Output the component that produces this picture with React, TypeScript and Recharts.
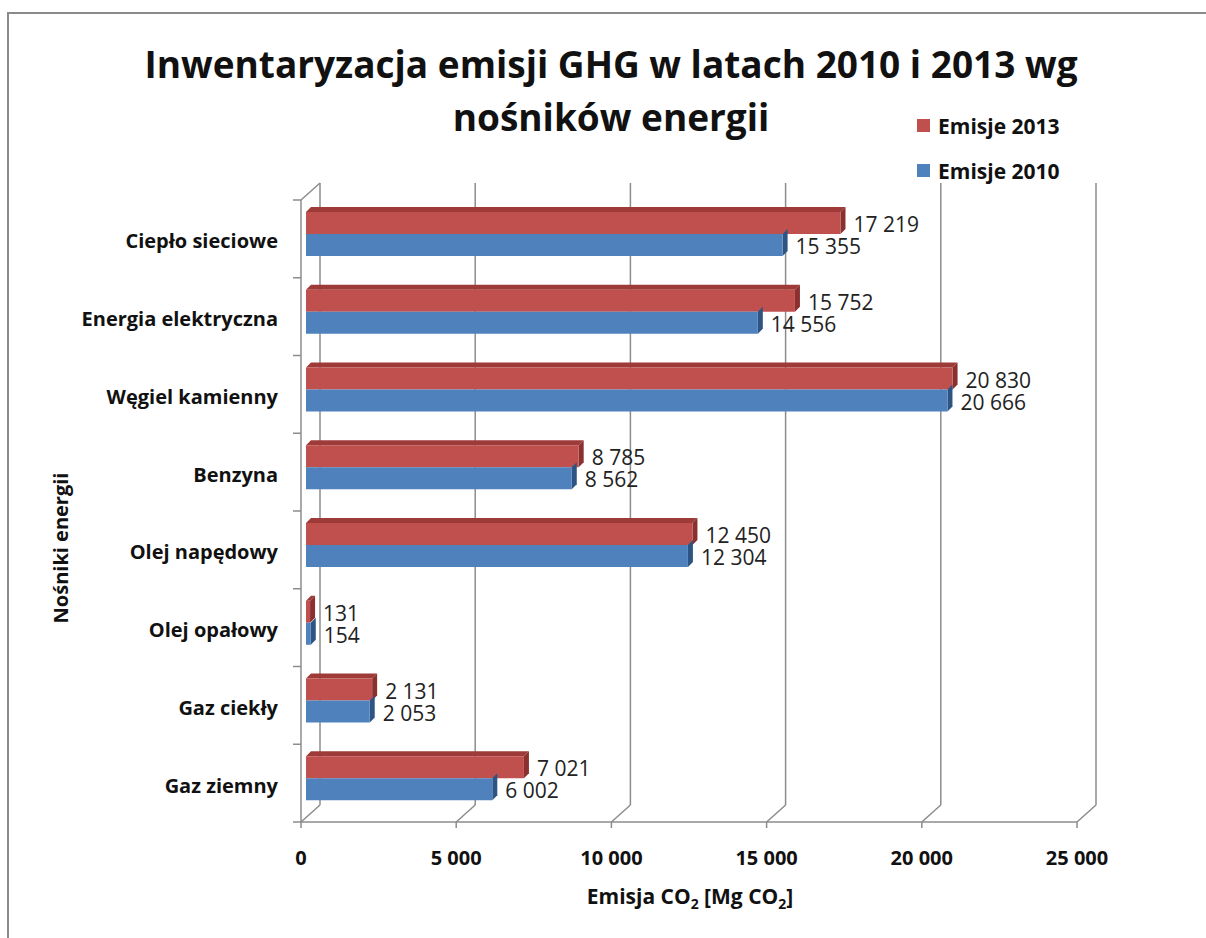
import React from 'react';
import {
  Bar,
  BarChart,
  CartesianGrid,
  Customized,
  LabelList,
  XAxis,
  YAxis,
} from 'recharts';

const categories = [
  'Ciepło sieciowe',
  'Energia elektryczna',
  'Węgiel kamienny',
  'Benzyna',
  'Olej napędowy',
  'Olej opałowy',
  'Gaz ciekły',
  'Gaz ziemny',
];
const emisje2013 = [17219, 15752, 20830, 8785, 12450, 131, 2131, 7021];
const emisje2010 = [15355, 14556, 20666, 8562, 12304, 154, 2053, 6002];
const xTicks = [0, 5000, 10000, 15000, 20000, 25000];
const seriesNames = ['Emisje 2013', 'Emisje 2010'];
const seriesColors = ['#C0504D', '#4F81BD'];

const data = categories.map((name, i) => ({
  name,
  e2013: emisje2013[i],
  e2010: emisje2010[i],
}));

const W = 1206;
const H = 938;
const PLOT_LEFT = 301;
const PLOT_RIGHT = 1077;
const PLOT_TOP = 200;
const PLOT_BOTTOM = 822;
const Y_AXIS_W = 250;
const X_AXIS_H = 60;
const BACK_DX = 19;
const BACK_DY = 17;
const SHIFT = 5; // bars sit half way into the depth
const DEPTH = 5;

const FONT = '"Open Sans", "DejaVu Sans", sans-serif';
const GRID = '#8c8c8c';

const fmt = (v: number) => String(v).replace(/\B(?=(\d{3})+(?!\d))/g, ' ');

const make3D = (front: string, top: string, side: string, showTop: boolean) => (props: any) => {
  const { x, y, width, height } = props;
  if (width == null || height == null) return null;
  const fx = x + SHIFT;
  const fy = y - SHIFT;
  const w = Math.max(width, 0);
  return (
    <g>
      {showTop && (
        <polygon
          points={`${fx},${fy} ${fx + DEPTH},${fy - DEPTH} ${fx + w + DEPTH},${fy - DEPTH} ${fx + w},${fy}`}
          fill={top}
        />
      )}
      <polygon
        points={`${fx + w},${fy} ${fx + w + DEPTH},${fy - DEPTH} ${fx + w + DEPTH},${fy + height - DEPTH} ${fx + w},${fy + height}`}
        fill={side}
      />
      <rect x={fx} y={fy} width={w} height={height} fill={front} />
    </g>
  );
};

const redShape = make3D(seriesColors[0], '#9E3B38', '#8A302E', true);
const blueShape = make3D(seriesColors[1], '#3A6595', '#2E5484', false);

const renderValue = (props: any) => {
  const { x, y, width, height, value } = props;
  return (
    <text
      x={x + width + SHIFT + DEPTH + 8}
      y={y + height / 2 - SHIFT + 1}
      dominantBaseline="central"
      fontFamily={FONT}
      fontSize={21}
      fill="#222"
    >
      {fmt(value)}
    </text>
  );
};

const gridLine = (props: any) => {
  const { x1, y1, y2, index } = props;
  return (
    <g key={`g-${index}`}>
      <line x1={x1} y1={y2} x2={x1 + BACK_DX} y2={y2 - BACK_DY} stroke={GRID} strokeWidth={1.5} />
      <line
        x1={x1 + BACK_DX}
        y1={y1 - BACK_DY}
        x2={x1 + BACK_DX}
        y2={y2 - BACK_DY}
        stroke={GRID}
        strokeWidth={1.5}
      />
      {index === 0 && (
        <line x1={x1} y1={y1} x2={x1 + BACK_DX} y2={y1 - BACK_DY} stroke={GRID} strokeWidth={1.5} />
      )}
    </g>
  );
};

const XTick = (props: any) => {
  const { x, payload } = props;
  return (
    <g>
      <line x1={x} y1={PLOT_BOTTOM} x2={x} y2={PLOT_BOTTOM + 6} stroke={GRID} strokeWidth={1.5} />
      <text
        x={x}
        y={PLOT_BOTTOM + 43}
        textAnchor="middle"
        fontFamily={FONT}
        fontWeight="bold"
        fontSize={20}
        fill="#111"
      >
        {fmt(payload.value)}
      </text>
    </g>
  );
};

const YTick = (props: any) => {
  const { y, payload, index } = props;
  const bw = (PLOT_BOTTOM - PLOT_TOP) / categories.length;
  return (
    <g>
      <line x1={PLOT_LEFT - 8} y1={y - bw / 2} x2={PLOT_LEFT} y2={y - bw / 2} stroke={GRID} strokeWidth={1.5} />
      {index === categories.length - 1 && (
        <line x1={PLOT_LEFT - 8} y1={y + bw / 2} x2={PLOT_LEFT} y2={y + bw / 2} stroke={GRID} strokeWidth={1.5} />
      )}
      <text
        x={PLOT_LEFT - 23}
        y={y + 2}
        textAnchor="end"
        dominantBaseline="central"
        fontFamily={FONT}
        fontWeight="bold"
        fontSize={20}
        fill="#111"
      >
        {payload.value}
      </text>
    </g>
  );
};

const Titles = () => (
  <g fontFamily={FONT} fill="#111">
    <text x={611} y={78} textAnchor="middle" fontWeight="bold" fontSize={37}>
      Inwentaryzacja emisji GHG w latach 2010 i 2013 wg
    </text>
    <text x={611} y={131} textAnchor="middle" fontWeight="bold" fontSize={37}>
      nośników energii
    </text>
    {seriesNames.map((n, i) => (
      <g key={n}>
        <rect x={917} y={119 + i * 45} width={13} height={13} fill={seriesColors[i]} />
        <text x={938} y={126 + i * 45} dominantBaseline="central" fontWeight="bold" fontSize={21}>
          {n}
        </text>
      </g>
    ))}
    <text
      x={60}
      y={548}
      textAnchor="middle"
      dominantBaseline="central"
      fontWeight="bold"
      fontSize={20}
      transform="rotate(-90 60 548)"
    >
      Nośniki energii
    </text>
    <text x={690} y={904} textAnchor="middle" fontWeight="bold" fontSize={21}>
      Emisja CO
      <tspan fontSize={14} dy={5}>2</tspan>
      <tspan dy={-5}> [Mg CO</tspan>
      <tspan fontSize={14} dy={5}>2</tspan>
      <tspan dy={-5}>]</tspan>
    </text>
  </g>
);

export default function App() {
  return (
    <div
      style={{
        position: 'absolute',
        left: 0,
        top: 0,
        width: W,
        height: H,
        overflow: 'hidden',
        background: '#fff',
      }}
    >
      <div
        style={{
          position: 'absolute',
          left: 7,
          top: 12,
          width: W,
          height: H,
          border: '2px solid #8a8a8a',
        }}
      />
      <BarChart
        width={W}
        height={H}
        data={data}
        layout="vertical"
        barSize={22}
        barGap={0}
        margin={{
          top: PLOT_TOP,
          right: W - PLOT_RIGHT,
          left: PLOT_LEFT - Y_AXIS_W,
          bottom: H - PLOT_BOTTOM - X_AXIS_H,
        }}
      >
        <CartesianGrid horizontal={false} vertical={gridLine} stroke={GRID} />
        <XAxis
          type="number"
          domain={[0, 25000]}
          ticks={xTicks}
          height={X_AXIS_H}
          tick={<XTick />}
          tickLine={false}
          tickSize={0}
          axisLine={{ stroke: GRID, strokeWidth: 1.5 }}
        />
        <YAxis
          type="category"
          dataKey="name"
          width={Y_AXIS_W}
          tick={<YTick />}
          tickLine={false}
          tickSize={0}
          axisLine={{ stroke: GRID, strokeWidth: 1.5 }}
        />
        <Bar dataKey="e2013" name={seriesNames[0]} fill={seriesColors[0]} shape={redShape} isAnimationActive={false}>
          <LabelList dataKey="e2013" content={renderValue} />
        </Bar>
        <Bar dataKey="e2010" name={seriesNames[1]} fill={seriesColors[1]} shape={blueShape} isAnimationActive={false}>
          <LabelList dataKey="e2010" content={renderValue} />
        </Bar>
        <Customized component={Titles} />
      </BarChart>
    </div>
  );
}
